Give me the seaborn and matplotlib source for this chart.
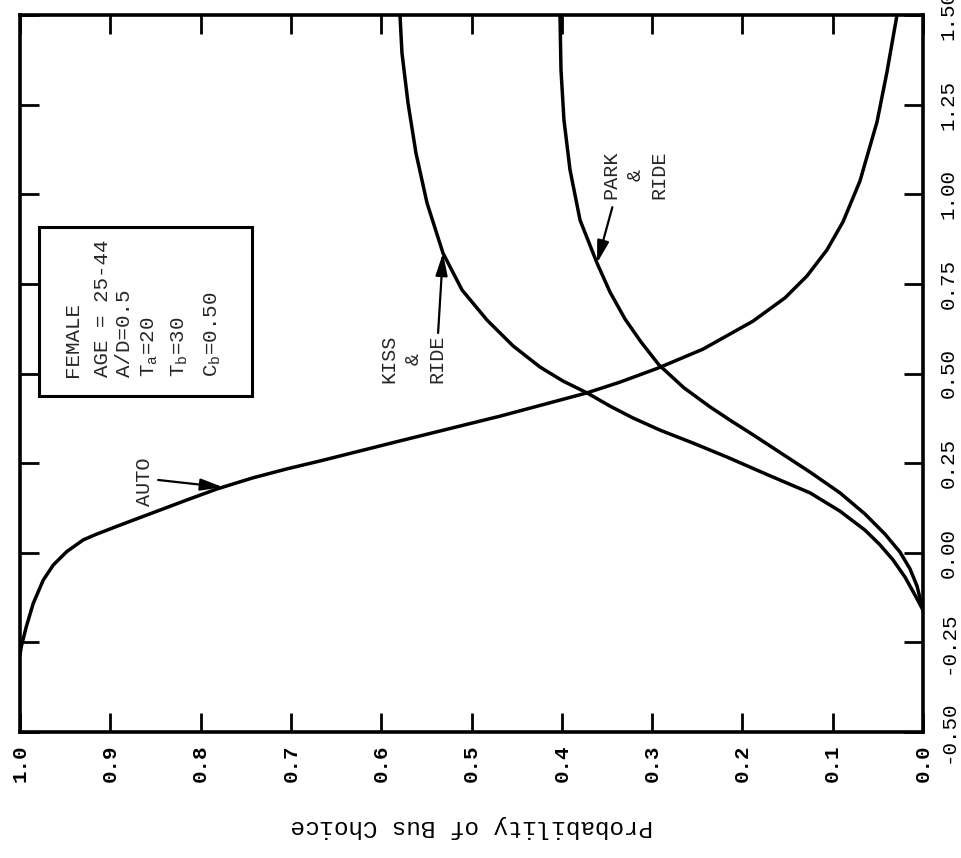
import numpy as np
import pandas as pd
import matplotlib
matplotlib.use("Agg")
import matplotlib.pyplot as plt
from matplotlib.patches import Rectangle
import seaborn as sns

# Probability of choosing the bus versus each competing mode,
# as a function of the cost differential (vertical axis).
auto_cost = [-0.285, -0.262, -0.206, -0.141, -0.076, -0.034, 0.003, 0.036, 0.052,
             0.077, 0.112, 0.147, 0.178, 0.209, 0.234, 0.256, 0.312, 0.381, 0.446,
             0.476, 0.515, 0.568, 0.646, 0.711, 0.772, 0.845, 0.923, 1.037, 1.202,
             1.341, 1.500]
auto_prob = [1.000, 0.9986, 0.9930, 0.9853, 0.9742, 0.9631, 0.9483, 0.9299, 0.9151,
             0.8893, 0.8524, 0.8154, 0.7818, 0.7420, 0.7043, 0.6678, 0.5792, 0.4684,
             0.3721, 0.3355, 0.2935, 0.2436, 0.1883, 0.1528, 0.1285, 0.1063, 0.0886,
             0.0698, 0.0509, 0.0399, 0.0288]

kiss_cost = [-0.160, -0.118, -0.068, -0.020, 0.022, 0.063, 0.116, 0.167, 0.217, 0.267,
             0.306, 0.342, 0.376, 0.409, 0.446, 0.479, 0.518, 0.577, 0.649, 0.733,
             0.836, 0.976, 1.115, 1.2545, 1.394, 1.500]
kiss_prob = [0.000, 0.0089, 0.0199, 0.0332, 0.0476, 0.0642, 0.0919, 0.1251, 0.1716,
             0.2171, 0.2547, 0.2912, 0.3212, 0.3466, 0.3721, 0.3987, 0.4241, 0.4540,
             0.4828, 0.5105, 0.5316, 0.5493, 0.5615, 0.5703, 0.5770, 0.5792]

park_cost = [-0.160, -0.093, -0.045, 0.002, 0.052, 0.108, 0.167, 0.225, 0.278, 0.331,
             0.368, 0.407, 0.460, 0.524, 0.588, 0.652, 0.727, 0.808, 0.928, 1.068,
             1.207, 1.347, 1.500]
park_prob = [0.000, 0.0066, 0.0144, 0.0255, 0.0421, 0.0642, 0.0919, 0.1251, 0.1573,
             0.1894, 0.2126, 0.2359, 0.2647, 0.2924, 0.3123, 0.3300, 0.3466, 0.3610,
             0.3798, 0.3909, 0.3976, 0.4009, 0.4020]

prob_ticks = [1.0, 0.9, 0.8, 0.7, 0.6, 0.5, 0.4, 0.3, 0.2, 0.1, 0.0]
prob_labels = ["1.0", "0.9", "0.8", "0.7", "0.6", "0.5", "0.4", "0.3", "0.2", "0.1", "0.0"]
cost_ticks = [-0.50, -0.25, 0.00, 0.25, 0.50, 0.75, 1.00, 1.25, 1.50]
cost_labels = ["-0.50", "-0.25", "0.00", "0.25", "0.50", "0.75", "1.00", "1.25", "1.50"]

info_lines = ["FEMALE", "AGE = 25-44", "A/D=0.5", r"T$_{\rm a}$=20", r"T$_{\rm b}$=30",
              r"C$_{\rm b}$=0.50"]

sns.set_theme(style="white")
plt.rcParams["font.family"] = ["Liberation Mono", "DejaVu Sans Mono"]
plt.rcParams["mathtext.fontset"] = "custom"
plt.rcParams["mathtext.rm"] = "Liberation Mono"
plt.rcParams["mathtext.it"] = "Liberation Mono"

fig = plt.figure(figsize=(9.61, 8.58), dpi=100)
ax = fig.add_axes([20 / 961, 1 - 732 / 858, 903 / 961, 717 / 858])

curves = {"AUTO": (auto_cost, auto_prob),
          "KISS": (kiss_cost, kiss_prob),
          "PARK": (park_cost, park_prob)}
for name, (cost, prob) in curves.items():
    df = pd.DataFrame({"prob": prob, "cost": cost})
    sns.lineplot(data=df, x="prob", y="cost", orient="y", sort=True,
                 estimator=None, color="black", lw=2.5, ax=ax)

ax.set_xlim(1.0, 0.0)
ax.set_ylim(-0.5, 1.5)

ax.set_xticks(prob_ticks)
ax.set_xticklabels(prob_labels, rotation=90, fontsize=15, fontweight="bold")
ax.set_yticks(cost_ticks)
ax.set_yticklabels(cost_labels, rotation=90, va="center", fontsize=15)
ax.tick_params(axis="x", bottom=True, top=True, labelbottom=True, labeltop=False,
               direction="in", length=14, width=2, pad=9, colors="black")
ax.tick_params(axis="y", left=True, right=True, labelleft=False, labelright=True,
               direction="in", length=14, width=2, pad=11, colors="black")
for sp in ax.spines.values():
    sp.set_linewidth(2.6)
    sp.set_color("black")

ax.set_xlabel("Probability of Bus Choice", rotation=180, fontsize=17.5, labelpad=24,
              color="black")
ax.set_ylabel("")


def on_curve(name, c):
    cost, prob = curves[name]
    return float(np.interp(c, cost, prob)), c


arrow = dict(arrowstyle="-|>,head_length=0.75,head_width=0.2", color="black",
             lw=1.6, shrinkA=0, shrinkB=0, mutation_scale=18)

# AUTO label and pointer
ax.text(0.862, 0.197, "AUTO", rotation=90, ha="center", va="center", fontsize=14.5)
ax.annotate("", xy=on_curve("AUTO", 0.183), xytext=(0.847, 0.203), arrowprops=arrow)

# KISS & RIDE label and pointer
ax.text(0.565, 0.540, "KISS\n&\nRIDE", rotation=90, ha="center", va="center",
        multialignment="center", fontsize=14.5, linespacing=1.35)
ax.annotate("", xy=on_curve("KISS", 0.836), xytext=(0.537, 0.613), arrowprops=arrow)

# PARK & RIDE label and pointer
ax.text(0.319, 1.054, "PARK\n&\nRIDE", rotation=90, ha="center", va="center",
        multialignment="center", fontsize=14.5, linespacing=1.35)
ax.annotate("", xy=on_curve("PARK", 0.808), xytext=(0.344, 0.964), arrowprops=arrow)

# Parameter box
ax.add_patch(Rectangle((0.021, 0.469), 0.236, 0.235, transform=ax.transAxes,
                       fill=False, edgecolor="black", lw=2.2))
line_x = [72, 103, 124, 150, 180, 213]
for px, txt in zip(line_x, info_lines):
    ax.text((px - 20) / 903, 0.495, txt, rotation=90, ha="center", va="bottom",
            transform=ax.transAxes, fontsize=15)

fig.savefig("out.png", dpi=100, facecolor="white")
